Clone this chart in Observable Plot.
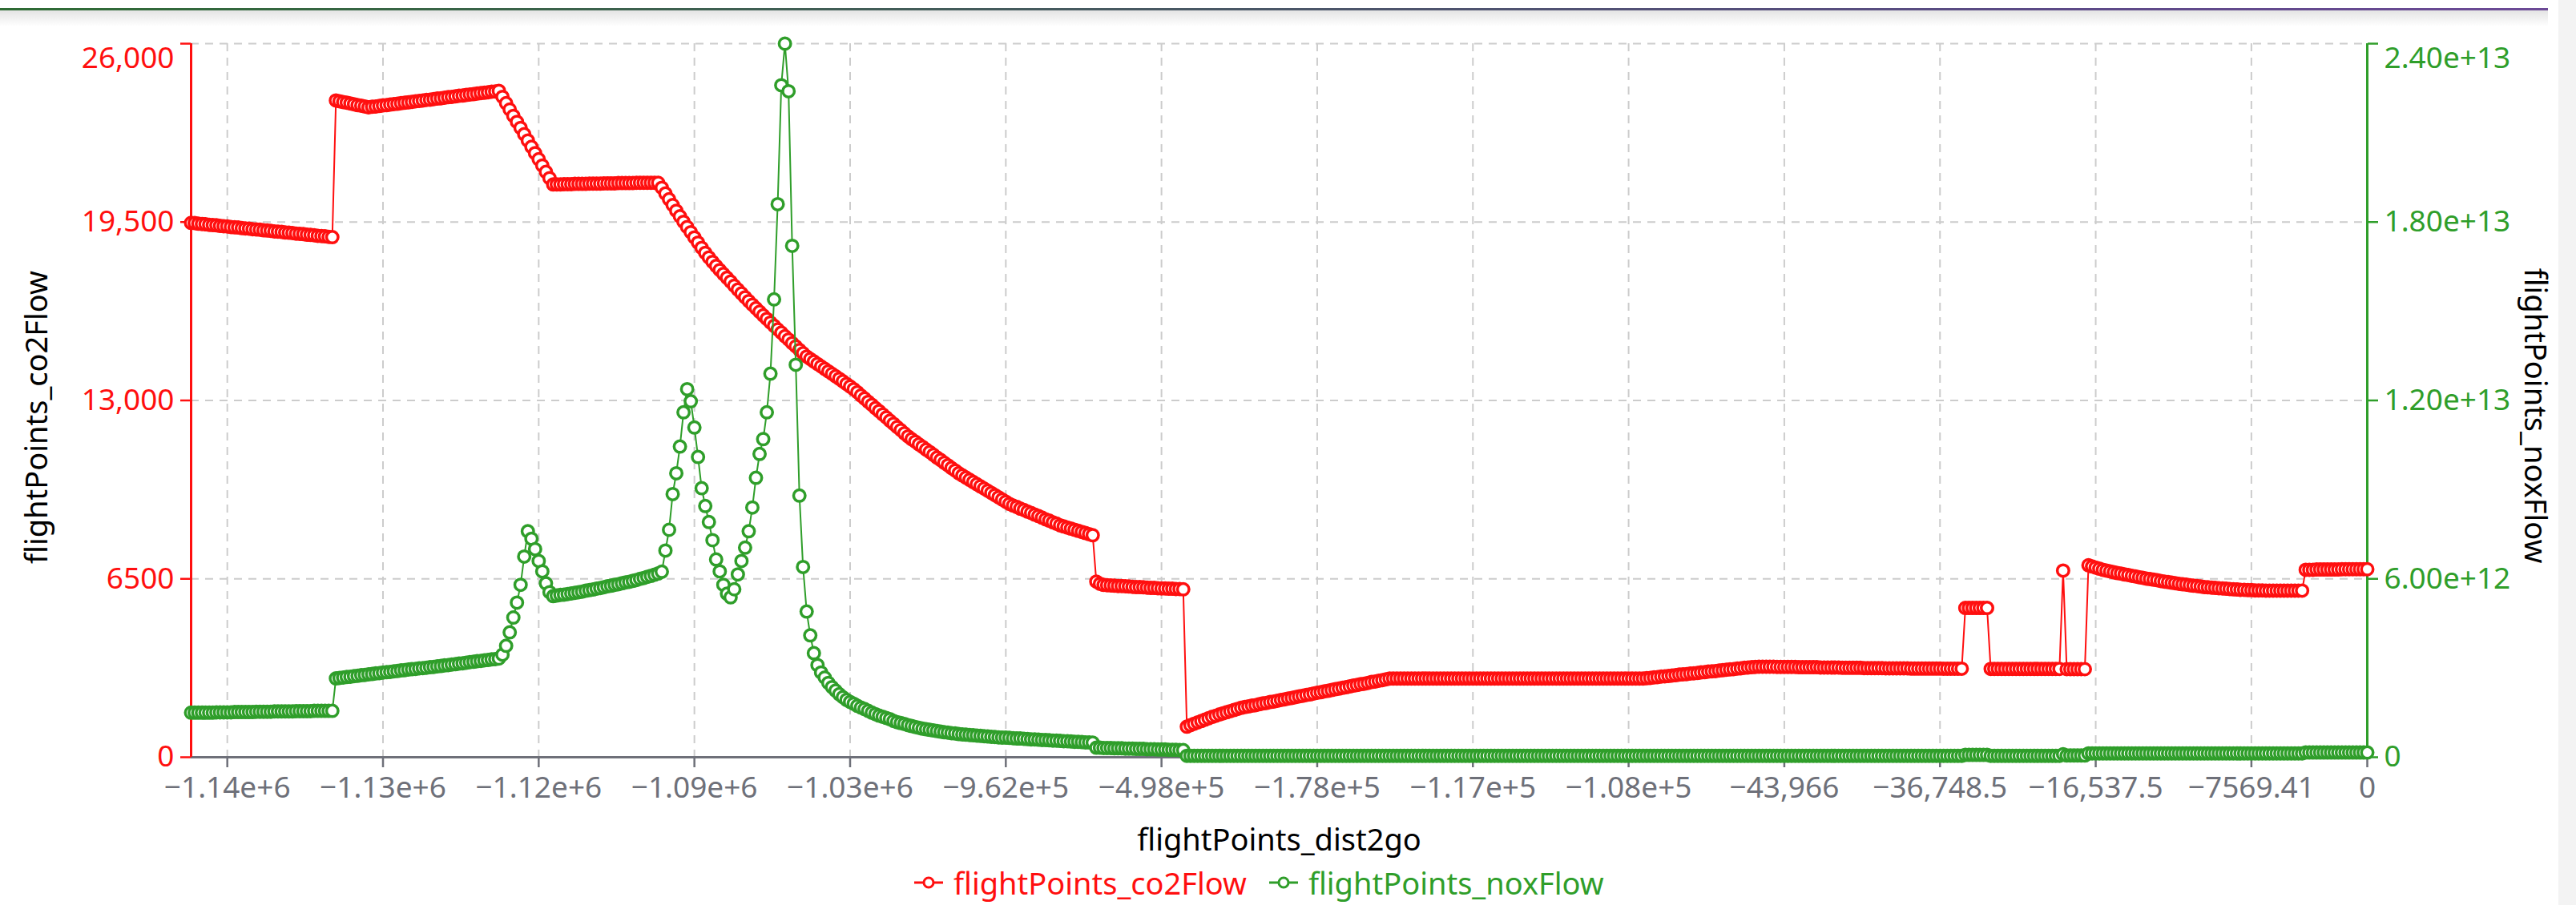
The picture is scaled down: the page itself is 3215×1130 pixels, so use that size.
<!DOCTYPE html>
<html>
<head>
<meta charset="utf-8">
<script src="https://cdn.jsdelivr.net/npm/d3@7"></script>
<script src="https://cdn.jsdelivr.net/npm/@observablehq/plot@0.6"></script>
<style>
html,body{margin:0;padding:0;background:#fff;}
body{width:3215px;height:1130px;overflow:hidden;position:relative;font-family:"Noto Sans",sans-serif;}
#topline{position:absolute;left:0;top:10px;width:3180px;height:3px;background:linear-gradient(90deg,#2e6b34,#5b4a86 80%,#6c4a96);}
#topshadow{position:absolute;left:0;top:13px;width:3180px;height:20px;background:linear-gradient(#e4e4e4,rgba(255,255,255,0));}
#rightstrip{position:absolute;left:3193px;top:0;width:22px;height:1130px;background:#f3f3f3;}
#chart{position:absolute;left:0;top:0;}
#legend{position:absolute;left:1141px;top:1080px;height:44px;display:flex;align-items:center;font-size:38px;white-space:nowrap;}
#legend .item{display:flex;align-items:center;}
#legend .item svg{margin-right:13px;}
#legend .gap{width:28px;}
</style>
</head>
<body>
<div id="topline"></div>
<div id="topshadow"></div>
<div id="rightstrip"></div>
<div id="chart"></div>
<div id="legend"></div>
<script>
// ---- data, one value per category index ----
const co2Flow = [
19470,19460,19440,19430,19420,19400,19390,19380,19360,19350,
19340,19320,19310,19300,19280,19270,19260,19240,19230,19220,
19200,19190,19180,19160,19150,19140,19120,19110,19100,19080,
19070,19060,19040,19030,19020,19000,18990,18980,18960,18950,
23930,23900,23870,23850,23820,23790,23760,23740,23710,23680,
23700,23710,23730,23750,23760,23780,23800,23810,23830,23850,
23860,23880,23900,23910,23930,23950,23960,23980,24000,24010,
24030,24050,24060,24080,24100,24110,24130,24150,24160,24180,
24200,24210,24230,24250,24260,24280,24060,23830,23600,23370,
23150,22930,22700,22470,22240,22010,21790,21560,21330,21100,
20870,20870,20870,20880,20880,20880,20890,20890,20890,20890,
20900,20900,20900,20900,20910,20910,20910,20910,20920,20920,
20920,20920,20920,20930,20930,20930,20930,20930,20930,20930,
20750,20540,20330,20120,19910,19710,19510,19320,19130,18940,
18750,18560,18380,18210,18050,17900,17750,17610,17470,17330,
17180,17040,16900,16760,16620,16490,16360,16230,16100,15970,
15840,15720,15590,15470,15340,15220,15090,14970,14840,14720,
14600,14510,14420,14330,14240,14150,14060,13970,13880,13790,
13700,13600,13510,13410,13300,13180,13070,12950,12840,12720,
12610,12490,12380,12260,12150,12030,11920,11800,11690,11590,
11500,11400,11310,11210,11120,11020,10920,10830,10730,10640,
10540,10450,10350,10270,10190,10110,10030,9950,9870,9790,
9710,9630,9550,9470,9390,9310,9230,9170,9120,9060,
9010,8950,8900,8840,8790,8730,8670,8620,8560,8510,
8450,8410,8370,8330,8290,8250,8210,8170,8130,8090,
6400,6320,6280,6270,6260,6250,6240,6240,6230,6220,
6210,6200,6200,6190,6180,6170,6170,6160,6150,6150,
6140,6140,6130,6130,6120,1115,1170,1220,1270,1320,
1370,1420,1470,1510,1560,1600,1640,1680,1720,1760,
1800,1830,1850,1880,1900,1930,1960,1980,2010,2030,
2060,2090,2110,2140,2160,2190,2220,2240,2270,2290,
2320,2350,2370,2400,2420,2450,2480,2500,2530,2550,
2580,2610,2630,2660,2680,2710,2740,2760,2790,2810,
2840,2865,2870,2870,2870,2870,2870,2870,2870,2870,
2870,2870,2870,2870,2870,2870,2870,2870,2870,2870,
2870,2870,2870,2870,2870,2870,2870,2870,2870,2870,
2870,2870,2870,2870,2870,2870,2870,2870,2870,2870,
2870,2870,2870,2870,2870,2870,2870,2870,2870,2870,
2870,2870,2870,2870,2870,2870,2870,2870,2870,2870,
2870,2870,2870,2870,2870,2870,2870,2870,2870,2870,
2870,2870,2880,2890,2910,2920,2940,2950,2960,2980,
2990,3010,3020,3030,3050,3060,3070,3090,3100,3120,
3130,3140,3160,3170,3190,3200,3210,3230,3240,3260,
3270,3280,3290,3300,3300,3300,3300,3300,3290,3290,
3290,3290,3290,3290,3280,3280,3280,3280,3280,3280,
3270,3270,3270,3270,3270,3270,3260,3260,3260,3260,
3260,3260,3250,3250,3250,3250,3250,3250,3240,3240,
3240,3240,3240,3240,3240,3230,3230,3230,3230,3230,
3230,3230,3230,3230,3225,3225,3225,3225,3225,3225,
5440,5440,5440,5440,5440,5440,5440,3220,3220,3220,
3220,3220,3220,3220,3220,3220,3220,3220,3220,3220,
3220,3220,3220,3220,3220,3220,3220,6800,3210,3210,
3210,3210,3210,3210,6995,6950,6910,6870,6830,6800,
6770,6740,6710,6690,6660,6640,6610,6590,6560,6540,
6510,6490,6470,6450,6420,6400,6380,6360,6340,6320,
6300,6290,6270,6250,6240,6220,6200,6190,6180,6170,
6160,6150,6140,6130,6120,6110,6100,6100,6090,6090,
6080,6080,6080,6070,6070,6070,6070,6070,6070,6070,
6070,6070,6070,6070,6830,6830,6830,6840,6840,6840,
6840,6840,6840,6840,6850,6850,6850,6850,6850,6850,
6850,6850
];
// noxFlow in units of 1e12
const noxFlow_e12 = [
1.50,1.50,1.50,1.50,1.50,1.50,1.50,1.51,1.51,1.51,
1.51,1.51,1.52,1.52,1.52,1.52,1.52,1.52,1.53,1.53,
1.53,1.53,1.53,1.54,1.54,1.54,1.54,1.54,1.54,1.55,
1.55,1.55,1.55,1.55,1.56,1.56,1.56,1.56,1.56,1.56,
2.65,2.67,2.68,2.70,2.71,2.73,2.74,2.76,2.77,2.79,
2.80,2.82,2.83,2.85,2.86,2.87,2.89,2.90,2.92,2.93,
2.95,2.96,2.97,2.99,3.00,3.01,3.03,3.04,3.06,3.07,
3.09,3.10,3.12,3.13,3.15,3.16,3.18,3.20,3.21,3.23,
3.24,3.26,3.27,3.29,3.30,3.32,3.45,3.75,4.20,4.70,
5.20,5.80,6.75,7.60,7.35,7.00,6.60,6.25,5.85,5.55,
5.42,5.44,5.46,5.47,5.49,5.51,5.53,5.55,5.57,5.60,
5.62,5.64,5.67,5.69,5.72,5.75,5.77,5.80,5.82,5.85,
5.88,5.90,5.93,5.96,6.00,6.03,6.07,6.10,6.14,6.18,
6.24,6.95,7.65,8.85,9.55,10.45,11.60,12.38,11.97,11.09,
10.10,9.05,8.45,7.91,7.30,6.65,6.25,5.80,5.50,5.38,
5.65,6.15,6.60,7.05,7.60,8.40,9.40,10.20,10.70,11.60,
12.90,15.40,18.60,22.60,24.00,22.40,17.20,13.20,8.80,6.40,
4.90,4.10,3.50,3.10,2.85,2.68,2.50,2.36,2.24,2.12,
2.02,1.93,1.86,1.80,1.73,1.67,1.62,1.56,1.50,1.45,
1.40,1.36,1.32,1.28,1.22,1.18,1.15,1.12,1.08,1.05,
1.02,0.99,0.96,0.94,0.92,0.90,0.88,0.86,0.84,0.83,
0.81,0.80,0.78,0.77,0.76,0.75,0.74,0.73,0.72,0.71,
0.70,0.69,0.68,0.67,0.66,0.66,0.65,0.64,0.63,0.63,
0.62,0.61,0.60,0.60,0.59,0.58,0.58,0.57,0.56,0.56,
0.55,0.54,0.54,0.53,0.52,0.52,0.51,0.50,0.50,0.49,
0.32,0.32,0.31,0.31,0.31,0.30,0.30,0.30,0.29,0.29,
0.29,0.28,0.28,0.28,0.27,0.27,0.27,0.26,0.26,0.26,
0.25,0.25,0.25,0.24,0.24,0.05,0.05,0.05,0.05,0.05,
0.05,0.05,0.05,0.05,0.05,0.05,0.05,0.05,0.05,0.05,
0.05,0.05,0.05,0.05,0.05,0.05,0.05,0.05,0.05,0.05,
0.05,0.05,0.05,0.05,0.05,0.05,0.05,0.05,0.05,0.05,
0.05,0.05,0.05,0.05,0.05,0.05,0.05,0.05,0.05,0.05,
0.05,0.05,0.05,0.05,0.05,0.05,0.05,0.05,0.05,0.05,
0.05,0.05,0.05,0.05,0.05,0.05,0.05,0.05,0.05,0.05,
0.05,0.05,0.05,0.05,0.05,0.05,0.05,0.05,0.05,0.05,
0.05,0.05,0.05,0.05,0.05,0.05,0.05,0.05,0.05,0.05,
0.05,0.05,0.05,0.05,0.05,0.05,0.05,0.05,0.05,0.05,
0.05,0.05,0.05,0.05,0.05,0.05,0.05,0.05,0.05,0.05,
0.05,0.05,0.05,0.05,0.05,0.05,0.05,0.05,0.05,0.05,
0.05,0.05,0.05,0.05,0.05,0.05,0.05,0.05,0.05,0.05,
0.05,0.05,0.05,0.05,0.05,0.05,0.05,0.05,0.05,0.05,
0.05,0.05,0.05,0.05,0.05,0.05,0.05,0.05,0.05,0.05,
0.05,0.05,0.05,0.05,0.05,0.05,0.05,0.05,0.05,0.05,
0.05,0.05,0.05,0.05,0.05,0.05,0.05,0.05,0.05,0.05,
0.05,0.05,0.05,0.05,0.05,0.05,0.05,0.05,0.05,0.05,
0.05,0.05,0.05,0.05,0.05,0.05,0.05,0.05,0.05,0.05,
0.05,0.05,0.05,0.05,0.05,0.05,0.05,0.05,0.05,0.05,
0.05,0.05,0.05,0.05,0.05,0.05,0.05,0.05,0.05,0.05,
0.05,0.05,0.05,0.05,0.05,0.05,0.05,0.05,0.05,0.05,
0.08,0.08,0.08,0.08,0.08,0.08,0.08,0.05,0.05,0.05,
0.05,0.05,0.05,0.05,0.05,0.05,0.05,0.05,0.05,0.05,
0.05,0.05,0.05,0.05,0.05,0.05,0.05,0.10,0.06,0.06,
0.06,0.06,0.06,0.06,0.13,0.13,0.13,0.13,0.13,0.13,
0.13,0.13,0.13,0.13,0.13,0.13,0.13,0.13,0.13,0.13,
0.13,0.13,0.13,0.13,0.13,0.13,0.13,0.13,0.13,0.13,
0.13,0.13,0.13,0.13,0.13,0.13,0.13,0.13,0.13,0.13,
0.13,0.13,0.13,0.13,0.13,0.13,0.13,0.13,0.13,0.13,
0.13,0.13,0.13,0.13,0.13,0.13,0.13,0.13,0.13,0.13,
0.13,0.13,0.13,0.13,0.16,0.16,0.16,0.16,0.16,0.16,
0.16,0.16,0.16,0.16,0.16,0.16,0.16,0.16,0.16,0.16,
0.16,0.16
];
// x categories (flightPoints_dist2go) shown as tick labels, with their category index
const xTickIndex = [10, 53, 96, 139, 182, 225, 268, 311, 354, 397, 440, 483, 526, 569, 601];
const xTickLabels = ["\u22121.14e+6","\u22121.13e+6","\u22121.12e+6","\u22121.09e+6","\u22121.03e+6","\u22129.62e+5","\u22124.98e+5","\u22121.78e+5","\u22121.17e+5","\u22121.08e+5","\u221243,966","\u221236,748.5","\u221216,537.5","\u22127569.41","0"];
const co2Ticks = [0, 6500, 13000, 19500, 26000];
const co2TickLabels = ["0", "6500", "13,000", "19,500", "26,000"];
const noxTicks = [0, 6e12, 1.2e13, 1.8e13, 2.4e13];
const noxTickLabels = ["0", "6.00e+12", "1.20e+13", "1.80e+13", "2.40e+13"];
const seriesNames = ["flightPoints_co2Flow", "flightPoints_noxFlow"];

// ---- chart ----
const RED = "#ff0f0f", GREEN = "#2f9e2a", AXISGREY = "#6e7079";
const W = 3215, H = 1070;
const co2Max = 26000, noxMax = 2.4e13;
const k = co2Max / noxMax;
const N = co2Flow.length;
const data = co2Flow.map((c, i) => ({i, co2: c, nox: noxFlow_e12[i] * 1e12}));
const noxScaled = noxTicks.map(v => v * k);
const nearestIdx = (arr, d) => { let b = 0; arr.forEach((v, j) => { if (Math.abs(v - d) < Math.abs(arr[b] - d)) b = j; }); return b; };
const grid = {stroke: "#cccccc", strokeOpacity: 1, strokeWidth: 2, strokeDasharray: "10,8"};
const font = 37;
const last = a => a.length - 1;
const dotR = 7.25, dotSW = 3.5;

const chart = Plot.plot({
  width: W, height: H,
  marginLeft: 238, marginRight: W - 2954, marginTop: 54, marginBottom: H - 945,
  x: {type: "linear", domain: [0, N - 1], label: null},
  y: {type: "linear", domain: [0, co2Max], label: null},
  style: {fontFamily: "'Noto Sans', sans-serif", background: "transparent", overflow: "visible"},
  marks: [
    Plot.gridY(co2Ticks.filter(d => d > 0), grid),
    Plot.gridX(xTickIndex.slice(0, -1), grid),
    Plot.axisX(xTickIndex, {tickSize: 13, tickPadding: 11, fontSize: font, color: AXISGREY, strokeWidth: 2.5, label: null,
      tickFormat: d => xTickLabels[nearestIdx(xTickIndex, d)]}),
    // left axis: the top label sits a little below its tick, as in the reference
    Plot.axisY(co2Ticks, {anchor: "left", tickSize: 13, tickPadding: 8, fontSize: font, color: RED, strokeWidth: 2.5, label: null,
      tickFormat: d => { const j = nearestIdx(co2Ticks, d); return j === last(co2Ticks) ? "" : co2TickLabels[j]; }}),
    Plot.text([co2Ticks[last(co2Ticks)]], {y: d => d, text: () => co2TickLabels[last(co2TickLabels)], frameAnchor: "left",
      dx: -21, dy: 19, textAnchor: "end", lineAnchor: "middle", fontSize: font, fill: RED}),
    Plot.axisY(noxScaled, {anchor: "right", tickSize: 13, tickPadding: 8, fontSize: font, color: GREEN, strokeWidth: 2.5, label: null,
      tickFormat: d => { const j = nearestIdx(noxScaled, d); return j === last(noxScaled) ? "" : noxTickLabels[j]; }}),
    Plot.text([noxScaled[last(noxScaled)]], {y: d => d, text: () => noxTickLabels[last(noxTickLabels)], frameAnchor: "right",
      dx: 21, dy: 19, textAnchor: "start", lineAnchor: "middle", fontSize: font, fill: GREEN}),
    Plot.ruleY([0], {stroke: AXISGREY, strokeWidth: 3}),
    Plot.ruleX([0], {stroke: RED, strokeWidth: 3}),
    Plot.ruleX([N - 1], {stroke: GREEN, strokeWidth: 3}),
    Plot.line(data, {x: "i", y: "co2", stroke: RED, strokeWidth: 2}),
    Plot.dot(data, {x: "i", y: "co2", r: dotR, stroke: RED, fill: "#ffffff", strokeWidth: dotSW}),
    Plot.line(data, {x: "i", y: d => d.nox * k, stroke: GREEN, strokeWidth: 2}),
    Plot.dot(data, {x: "i", y: d => d.nox * k, r: dotR, stroke: GREEN, fill: "#ffffff", strokeWidth: dotSW}),
    Plot.text(["flightPoints_dist2go"], {text: d => d, frameAnchor: "bottom", dy: 104, fontSize: 38, fill: "#000", textAnchor: "middle", lineAnchor: "middle"}),
    Plot.text(["flightPoints_co2Flow"], {text: d => d, frameAnchor: "left", dx: 46 - 238, dy: 21, rotate: -90, fontSize: 38, fill: "#000", textAnchor: "middle", lineAnchor: "middle"}),
    Plot.text(["flightPoints_noxFlow"], {text: d => d, frameAnchor: "right", dx: 3163 - 2954, dy: 19, rotate: 90, fontSize: 38, fill: "#000", textAnchor: "middle", lineAnchor: "middle"})
  ]
});
document.getElementById("chart").appendChild(chart);

// ---- legend ----
const legend = document.getElementById("legend");
[[seriesNames[0], RED], [seriesNames[1], GREEN]].forEach(([name, col], j) => {
  if (j > 0) { const g = document.createElement("div"); g.className = "gap"; legend.appendChild(g); }
  const item = document.createElement("div");
  item.className = "item";
  item.innerHTML = `<svg width="36" height="20" viewBox="0 0 36 20"><line x1="0" y1="10" x2="36" y2="10" stroke="${col}" stroke-width="3"/><circle cx="18" cy="10" r="6" fill="#fff" stroke="${col}" stroke-width="3"/></svg><span style="color:${col}">${name}</span>`;
  legend.appendChild(item);
});
</script>
</body>
</html>
